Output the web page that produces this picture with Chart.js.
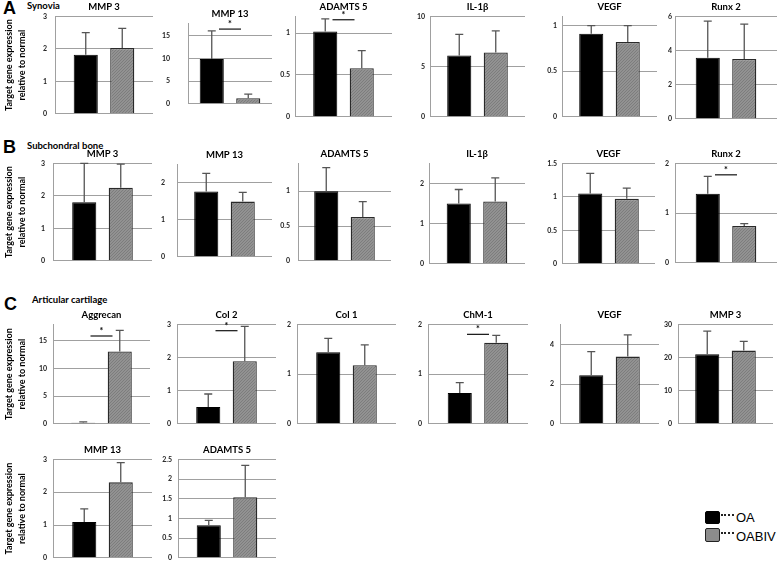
<!DOCTYPE html>
<html><head><meta charset="utf-8">
<script src="https://cdn.jsdelivr.net/npm/chart.js@4.4.1/dist/chart.umd.min.js"></script>
<style>
body{margin:0;background:#fff;width:778px;height:567px;position:relative;overflow:hidden;font-family:Lato,'Liberation Sans',sans-serif;}
canvas{position:absolute;}
.big{position:absolute;font:bold 18px 'Liberation Sans',Arial,sans-serif;color:#000;line-height:21px;}
.sub{position:absolute;font:bold 9.5px Lato,'Liberation Sans',sans-serif;color:#000;line-height:12px;white-space:nowrap;}
.sw{position:absolute;width:13px;border-radius:2px;}
.dots{position:absolute;width:13px;border-top:2px dotted #222;}
.lt{position:absolute;font:13px 'Liberation Sans',Arial,sans-serif;color:#000;line-height:15px;}
</style></head><body>
<div class="big" style="left:3px;top:-2px">A</div>
<div class="sub" style="left:27px;top:0px">Synovia</div>
<div class="big" style="left:3px;top:137px">B</div>
<div class="sub" style="left:27px;top:140px">Subchondral bone</div>
<div class="big" style="left:4px;top:294px">C</div>
<div class="sub" style="left:32px;top:294px">Articular cartilage</div>

<div class="sw" style="left:705px;top:511px;height:11px;background:#000;border:1px solid #000"></div>
<div class="dots" style="left:721px;top:514px"></div>
<div class="lt" style="left:736px;top:510px">OA</div>
<div class="sw" style="left:705px;top:528px;height:12px;background:#8c8c8c;border:1.5px solid #222"></div>
<div class="dots" style="left:721px;top:532px"></div>
<div class="lt" style="left:736px;top:529px">OABIV</div>

<script>
// ---------- DATA ----------
const groupNames = ['OA', 'OABIV'];
const yAxisTitle = ['Target gene expression', 'relative to normal'];

// A: Synovia
const synoviaGenes   = ['MMP 3', 'MMP 13', 'ADAMTS 5', 'IL-1β', 'VEGF', 'Runx 2'];
const synoviaOA      = [1.82, 9.9, 1.02, 6.1, 0.91, 3.57];
const synoviaOABIV   = [2.03, 1.25, 0.58, 6.4, 0.82, 3.50];
const synoviaOAErr   = [2.50, 16.1, 1.17, 8.2, 1.00, 5.72];
const synoviaOABIVErr= [2.63, 2.15, 0.79, 8.55, 1.00, 5.55];
const synoviaMax     = [3, 17.8, 1.2, 10, 1.1, 6];
const synoviaTicks   = [[0,1,2,3],[0,5,10,15],[0,0.5,1],[0,5,10],[0,0.5,1],[0,2,4,6]];
const synoviaSig     = [null, 16.5, 1.16, null, null, null];

// B: Subchondral bone
const boneGenes      = ['MMP 3', 'MMP 13', 'ADAMTS 5', 'IL-1β', 'VEGF', 'Runx 2'];
const boneOA         = [1.80, 1.76, 1.00, 1.50, 1.05, 1.39];
const boneOABIV      = [2.25, 1.49, 0.63, 1.55, 0.97, 0.74];
const boneOAErr      = [3.00, 2.25, 1.34, 1.85, 1.35, 1.74];
const boneOABIVErr   = [2.98, 1.74, 0.85, 2.14, 1.13, 0.79];
const boneMax        = [3, 2.5, 1.4, 2.5, 1.5, 2];
const boneTicks      = [[0,1,2,3],[0,1,2],[0,0.5,1],[0,1,2],[0,0.5,1,1.5],[0,1,2]];
const boneSig        = [null, null, null, null, null, 1.77];

// C: Articular cartilage
const cartGenes      = ['Aggrecan', 'Col 2', 'Col 1', 'ChM-1', 'VEGF', 'MMP 3', 'MMP 13', 'ADAMTS 5'];
const cartOA         = [0.18, 0.51, 1.44, 0.62, 2.44, 21.0, 1.09, 0.83];
const cartOABIV      = [13.1, 1.89, 1.18, 1.63, 3.38, 22.1, 2.30, 1.54];
const cartOAErr      = [0.35, 0.90, 1.72, 0.83, 3.63, 28.0, 1.49, 0.95];
const cartOABIVErr   = [16.9, 2.94, 1.59, 1.78, 4.47, 24.9, 2.90, 2.35];
const cartMax        = [18, 3, 2, 2, 5, 30, 3, 2.5];
const cartTicks      = [[0,5,10,15],[0,1,2,3],[0,1,2],[0,1,2],[0,2,4],[0,10,20,30],[0,1,2,3],[0,0.5,1,1.5,2,2.5]];
const cartSig        = [15.9, 2.81, null, 1.80, null, null, null, null];

// ---------- LAYOUT (plot rectangles: left, right, top, bottom, tick pad, first-in-row) ----------
const layoutA = [[55,153],[188,272],[295,392],[430,525],[562,657],[675,777]].map((r,i)=>({l:r[0],r:r[1],t:17,b:120,pad:[8,18,5,5,5,3][i],first:i===0}));
const layoutB = [[53,152],[177,272],[298,391],[429,525],[562,655],[675,777]].map((r,i)=>({l:r[0],r:r[1],t:164,b:267,pad:[8,12,8,5,5,6][i],first:i===0}));
const layoutC = [[53,150,325,428],[177,276,325,428],[297,396,325,428],[428,528,325,428],[560,659,325,428],[678,773,325,428],[53,152,460,562],[178,276,460,562]]
  .map((r,i)=>({l:r[0],r:r[1],t:r[2],b:r[3],pad:6,first:(i===0||i===6)}));

const FONT = 'Lato, "Liberation Sans", sans-serif';
const TITLE_H = 16, BOT_PAD = 6, RIGHT_PAD = 4, YW = 32;

// fine textured gray fill for OABIV
function makePattern(){
  const c = document.createElement('canvas'); c.width = 3; c.height = 3;
  const g = c.getContext('2d');
  g.fillStyle = '#929292'; g.fillRect(0,0,3,3);
  g.fillStyle = '#7d7d7d';
  for (let i=0;i<3;i++) g.fillRect(i,(2-i),1,1);
  return g.createPattern(c,'repeat');
}
const grayPattern = makePattern();

const errorBarPlugin = {
  id: 'errbars',
  afterDatasetsDraw(chart, args, opts) {
    const ctx = chart.ctx, y = chart.scales.y;
    ctx.save();
    ctx.strokeStyle = '#555'; ctx.lineWidth = 1.3;
    opts.err.forEach((e, i) => {
      const el = chart.getDatasetMeta(i).data[0];
      const yTop = y.getPixelForValue(e);
      ctx.beginPath();
      ctx.moveTo(el.x, el.y); ctx.lineTo(el.x, yTop);
      ctx.moveTo(el.x - 4, yTop); ctx.lineTo(el.x + 4, yTop);
      ctx.stroke();
    });
    if (opts.sig !== null && opts.sig !== undefined) {
      const a = chart.getDatasetMeta(0).data[0], b = chart.getDatasetMeta(1).data[0];
      const cx = (a.x + b.x) / 2, sy = y.getPixelForValue(opts.sig);
      ctx.strokeStyle = '#111'; ctx.lineWidth = 1.2;
      ctx.beginPath(); ctx.moveTo(cx - 11, sy); ctx.lineTo(cx + 11, sy); ctx.stroke();
      ctx.fillStyle = '#000'; ctx.font = 'bold 9px ' + FONT;
      ctx.textAlign = 'center'; ctx.textBaseline = 'middle';
      ctx.fillText('*', cx, sy - 5);
    }
    ctx.restore();
  }
};

function makePanel(title, oa, ab, oaErr, abErr, max, ticks, sig, L) {
  const yw = L.first ? L.l : YW;
  const W = L.r - L.l;
  const cv = document.createElement('canvas');
  const cw = yw + W + RIGHT_PAD, ch = (L.b - L.t) + TITLE_H + BOT_PAD;
  cv.width = cw; cv.height = ch;
  cv.style.left = (L.l - yw) + 'px'; cv.style.top = (L.t - TITLE_H) + 'px';
  cv.style.width = cw + 'px'; cv.style.height = ch + 'px';
  document.body.appendChild(cv);
  const cp = 73 / W;
  new Chart(cv.getContext('2d'), {
    type: 'bar',
    data: {
      labels: [title],
      datasets: [
        { label: groupNames[0], data: [oa], backgroundColor: '#000', borderColor: '#000', borderWidth: 1,
          categoryPercentage: cp, barPercentage: 0.66 },
        { label: groupNames[1], data: [ab], backgroundColor: grayPattern, borderColor: '#2a2a2a', borderWidth: 1.3,
          categoryPercentage: cp, barPercentage: 0.66 }
      ]
    },
    options: {
      responsive: false, animation: false, devicePixelRatio: 1,
      layout: { padding: { left: 0, right: RIGHT_PAD, top: 0, bottom: BOT_PAD } },
      plugins: {
        legend: { display: false }, tooltip: { enabled: false },
        title: { display: true, text: title, fullSize: false, color: '#000',
                 font: { family: FONT, size: 9.5, weight: 'bold' }, padding: { top: 0, bottom: 4 } },
        errbars: { err: [oaErr, abErr], sig: sig }
      },
      scales: {
        x: { display: false },
        y: {
          min: 0, max: max,
          afterBuildTicks: s => { s.ticks = ticks.map(v => ({ value: v })); },
          afterFit: s => { s.width = yw; },
          grid: { color: '#a0a0a0', lineWidth: 1, drawTicks: false },
          border: { color: '#a0a0a0', width: 1 },
          ticks: { padding: L.pad, color: '#222', font: { family: FONT, size: 7, weight: 'bold' },
                   callback: v => String(v) },
          title: { display: L.first, text: yAxisTitle, color: '#000',
                   font: { family: FONT, size: 9, weight: 'bold', lineHeight: 1.45 },
                   padding: { top: 3, bottom: 0 } }
        }
      }
    },
    plugins: [errorBarPlugin]
  });
}

function buildRow(genes, oa, ab, oaErr, abErr, max, ticks, sig, layout) {
  genes.forEach((g, i) => makePanel(g, oa[i], ab[i], oaErr[i], abErr[i], max[i], ticks[i], sig[i], layout[i]));
}
buildRow(synoviaGenes, synoviaOA, synoviaOABIV, synoviaOAErr, synoviaOABIVErr, synoviaMax, synoviaTicks, synoviaSig, layoutA);
buildRow(boneGenes, boneOA, boneOABIV, boneOAErr, boneOABIVErr, boneMax, boneTicks, boneSig, layoutB);
buildRow(cartGenes, cartOA, cartOABIV, cartOAErr, cartOABIVErr, cartMax, cartTicks, cartSig, layoutC);
</script>
</body></html>
